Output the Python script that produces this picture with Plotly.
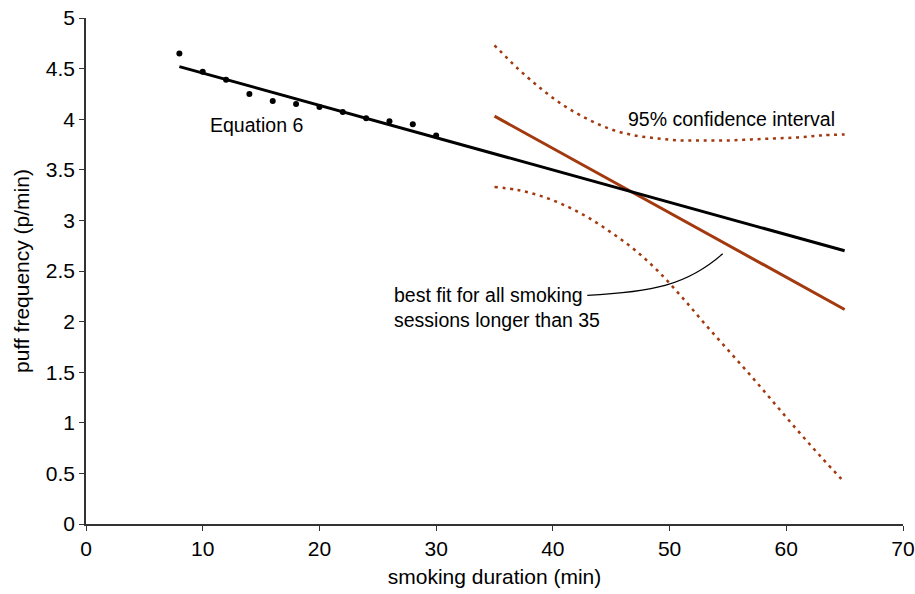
import plotly.graph_objects as go

# Observed data points
obs_x = [8, 10, 12, 14, 16, 18, 20, 22, 24, 26, 28, 30]
obs_y = [4.65, 4.47, 4.39, 4.25, 4.18, 4.15, 4.12, 4.07, 4.01, 3.98, 3.95, 3.84]

# Equation 6 fit line
eq6_x = [8, 65]
eq6_y = [4.52, 2.70]

# Best fit for sessions longer than 35
best_x = [35, 65]
best_y = [4.03, 2.12]

# 95% confidence interval (upper)
ci_up_x = [35, 37, 39, 41, 43, 45, 47, 49, 51, 53, 55, 57, 59, 61, 63, 65]
ci_up_y = [4.73, 4.50, 4.30, 4.13, 4.00, 3.90, 3.84, 3.81, 3.79, 3.79, 3.79, 3.80, 3.81, 3.82, 3.84, 3.85]

# 95% confidence interval (lower)
ci_lo_x = [35, 37, 39, 41, 43, 45, 47, 49, 51, 53, 55, 57, 59, 61, 63, 65]
ci_lo_y = [3.33, 3.30, 3.24, 3.15, 3.03, 2.88, 2.71, 2.50, 2.25, 1.98, 1.72, 1.46, 1.19, 0.92, 0.66, 0.41]

x_ticks = [0, 10, 20, 30, 40, 50, 60, 70]
y_ticks = [0, 0.5, 1, 1.5, 2, 2.5, 3, 3.5, 4, 4.5, 5]
y_tick_text = ["0", "0.5", "1", "1.5", "2", "2.5", "3", "3.5", "4", "4.5", "5"]

BROWN = "#a2390f"
FONT = "Liberation Sans, Arial, sans-serif"

fig = go.Figure()
fig.add_trace(go.Scatter(x=ci_up_x, y=ci_up_y, mode="lines",
                         line=dict(color=BROWN, width=2.5, dash="3px,4.7px", shape="spline"), hoverinfo="skip"))
fig.add_trace(go.Scatter(x=ci_lo_x, y=ci_lo_y, mode="lines",
                         line=dict(color=BROWN, width=2.5, dash="3px,4.7px", shape="spline"), hoverinfo="skip"))
fig.add_trace(go.Scatter(x=best_x, y=best_y, mode="lines", line=dict(color=BROWN, width=3)))
fig.add_trace(go.Scatter(x=eq6_x, y=eq6_y, mode="lines", line=dict(color="black", width=3)))
fig.add_trace(go.Scatter(x=obs_x, y=obs_y, mode="markers", marker=dict(color="black", size=6)))

# callout curve
fig.add_shape(type="path", xref="x", yref="y",
              path="M 42.95,2.26 C 48.5,2.29 51.5,2.36 54.55,2.67",
              line=dict(color="black", width=1.2))

fig.add_annotation(x=14.6, y=3.94, text="Equation 6", showarrow=False,
                   font=dict(size=19.5, color="black", family=FONT))
fig.add_annotation(x=55.3, y=4.0, text="95% confidence interval", showarrow=False,
                   font=dict(size=19.5, color="black", family=FONT))
fig.add_annotation(x=26.2, y=2.14, text="best fit for all smoking<br>sessions longer than 35",
                   showarrow=False, xanchor="left", align="left",
                   font=dict(size=19.5, color="black", family=FONT))

fig.update_layout(
    width=915, height=594,
    margin=dict(l=86, r=12, t=18, b=70),
    paper_bgcolor="white", plot_bgcolor="white",
    showlegend=False,
    font=dict(family=FONT, size=20, color="black"),
)
fig.update_xaxes(range=[0, 70], tickvals=x_ticks, showgrid=False, zeroline=False,
                 showline=True, linecolor="#333", linewidth=1.5,
                 ticks="outside", ticklen=5, tickcolor="#333",
                 automargin=False, ticklabeloverflow="allow",
                 title=dict(text="smoking duration (min)", standoff=10,
                            font=dict(size=21, family=FONT)),
                 tickfont=dict(size=21, family=FONT))
fig.update_yaxes(range=[0, 5], tickvals=y_ticks, ticktext=y_tick_text, showgrid=False, zeroline=False,
                 showline=True, linecolor="#333", linewidth=1.5,
                 ticks="outside", ticklen=5, tickcolor="#333",
                 automargin=False, ticklabeloverflow="allow",
                 title=dict(text="puff frequency (p/min)", standoff=10,
                            font=dict(size=21, family=FONT)),
                 tickfont=dict(size=21, family=FONT))

fig.write_html("out.html", config={"displayModeBar": False},
               post_script="document.body.style.margin='0px';document.body.style.overflow='hidden';")
